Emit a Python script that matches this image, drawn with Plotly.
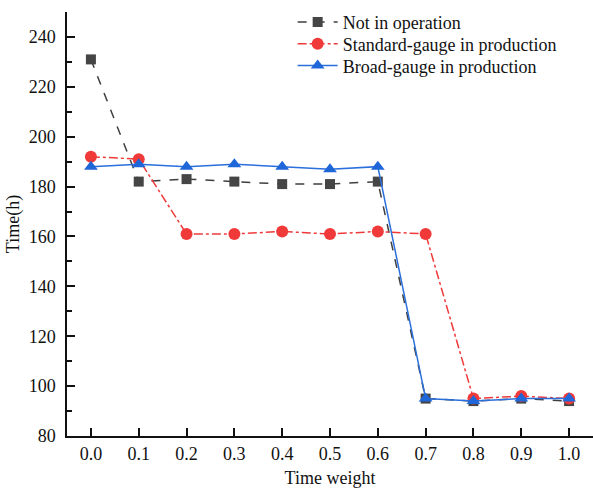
import plotly.graph_objects as go

x_vals = [0.0, 0.1, 0.2, 0.3, 0.4, 0.5, 0.6, 0.7, 0.8, 0.9, 1.0]
not_in_operation = [231, 182, 183, 182, 181, 181, 182, 95, 94, 95, 94]
standard_gauge = [192, 191, 161, 161, 162, 161, 162, 161, 95, 96, 95]
broad_gauge = [188, 189, 188, 189, 188, 187, 188, 95, 94, 95, 95]
x_tick_labels = ["0.0", "0.1", "0.2", "0.3", "0.4", "0.5", "0.6", "0.7", "0.8", "0.9", "1.0"]
y_ticks = [80, 100, 120, 140, 160, 180, 200, 220, 240]

FONT = "Liberation Serif, Times New Roman, serif"

fig = go.Figure()
fig.add_trace(go.Scatter(
    x=x_vals, y=not_in_operation, name="Not in operation", mode="lines+markers",
    line=dict(color="#3f3f3f", width=1.5, dash="dash"),
    marker=dict(symbol="square", size=10, color="#454545"),
    legend="legend",
))
fig.add_trace(go.Scatter(
    x=x_vals, y=standard_gauge, name="Standard-gauge in production", mode="lines+markers",
    line=dict(color="#f03a3a", width=1.5, dash="dashdot"),
    marker=dict(symbol="circle", size=12, color="#f03a3a"),
    legend="legend2",
))
fig.add_trace(go.Scatter(
    x=x_vals, y=broad_gauge, name="Broad-gauge in production", mode="lines+markers",
    line=dict(color="#2a6fdb", width=1.5),
    marker=dict(symbol="triangle-up", size=12, color="#1f66d8"),
    legend="legend3",
))

def leg(y):
    return dict(x=0.429, y=y, xanchor="left", yanchor="middle",
                bgcolor="rgba(0,0,0,0)", font=dict(family=FONT, size=18),
                itemwidth=40)

fig.update_layout(
    width=593, height=489,
    margin=dict(l=67, r=0, t=12, b=53),
    paper_bgcolor="white", plot_bgcolor="white",
    font=dict(family=FONT, size=18, color="#111111"),
    showlegend=True,
    legend=leg(0.976),
    legend2=leg(0.9245),
    legend3=leg(0.873),
    xaxis=dict(
        range=[-0.05, 1.05], tickmode="array", tickvals=x_vals, ticktext=x_tick_labels,
        showgrid=False, zeroline=False, showline=True, linecolor="#111111", linewidth=1.5,
        ticks="inside", ticklen=8, tickwidth=1.5, tickcolor="#111111",
        ticklabelstandoff=1,
        title=dict(text="Time weight", font=dict(family=FONT, size=18), standoff=8),
        tickfont=dict(family=FONT, size=18),
    ),
    yaxis=dict(
        range=[80, 250], tickmode="array", tickvals=y_ticks,
        showgrid=False, zeroline=False, showline=True, linecolor="#111111", linewidth=1.5,
        ticks="inside", ticklen=8, tickwidth=1.5, tickcolor="#111111",
        ticklabelstandoff=6,
        minor=dict(ticks="inside", ticklen=5, tickwidth=1.5, tickcolor="#111111", dtick=10, tick0=80),
        title=dict(text="Time(h)", font=dict(family=FONT, size=18), standoff=4),
        tickfont=dict(family=FONT, size=18),
    ),
)

fig.write_html("out.html")
